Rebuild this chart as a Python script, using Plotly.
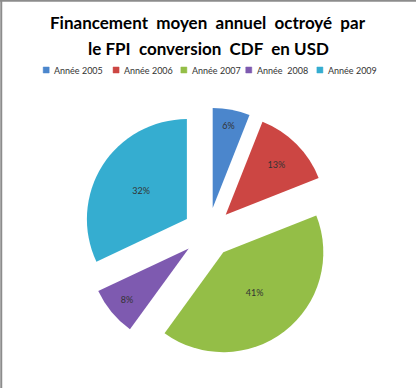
import plotly.graph_objects as go

categories = ["Année 2005", "Année 2006", "Année 2007", "Année  2008", "Année 2009"]
values = [6, 13, 41, 8, 32]
colors = ["#4B86CC", "#CC4643", "#94BE47", "#7E5AB0", "#35ADD0"]
title_lines = ["Financement\u00a0 moyen\u00a0 annuel\u00a0 octroyé\u00a0 par",
               "le FPI\u00a0 conversion\u00a0 CDF\u00a0 en USD"]
legend_x = [0.111, 0.279, 0.442, 0.598, 0.769]  # legend marker positions (paper fraction)

W, H = 416, 388

fig = go.Figure(go.Pie(
    labels=categories,
    values=values,
    sort=False,
    direction="clockwise",
    rotation=0,
    pull=[0.25] * len(values),
    marker=dict(colors=colors, line=dict(width=0)),
    texttemplate="%{percent:.0%}",
    textposition="inside",
    insidetextorientation="horizontal",
    textfont=dict(family="Lato", size=9, color="#333333"),
    domain=dict(x=[0.15, 0.85], y=[0.0786, 0.7229]),
    hoverinfo="label+percent",
    showlegend=False,
))

annotations = []
shapes = []
for i, line in enumerate(title_lines):
    annotations.append(dict(text="<b>" + line + "</b>", x=0.5, xref="paper", xanchor="center",
                            y=1 - (22 + 26 * i) / H, yref="paper", yanchor="middle",
                            showarrow=False,
                            font=dict(family="Lato", size=17, color="black")))

ly = 1 - 70 / H
for cat, col, lx in zip(categories, colors, legend_x):
    shapes.append(dict(type="rect", xref="paper", yref="paper",
                       x0=lx - 3 / W, x1=lx + 3 / W, y0=ly - 3 / H, y1=ly + 3 / H,
                       fillcolor=col, line=dict(color=col, width=0.5)))
    annotations.append(dict(text=cat.replace("  ", "\u00a0 "), x=lx + 6 / W, xref="paper",
                            xanchor="left", y=ly, yref="paper", yanchor="middle",
                            showarrow=False,
                            font=dict(family="Lato", size=9, color="#333333")))

shapes += [
    dict(type="line", xref="paper", yref="paper", x0=0.003, x1=0.003, y0=0, y1=1,
         line=dict(color="#8c8c8c", width=2)),
    dict(type="line", xref="paper", yref="paper", x0=0, x1=1, y0=0.998, y1=0.998,
         line=dict(color="#8c8c8c", width=2)),
]

fig.update_layout(
    width=W, height=H,
    margin=dict(l=0, r=0, t=0, b=0),
    paper_bgcolor="white",
    plot_bgcolor="white",
    showlegend=False,
    annotations=annotations,
    shapes=shapes,
)

fig.write_html("out.html", config={"displayModeBar": False},
               post_script="document.body.style.margin='0';")
